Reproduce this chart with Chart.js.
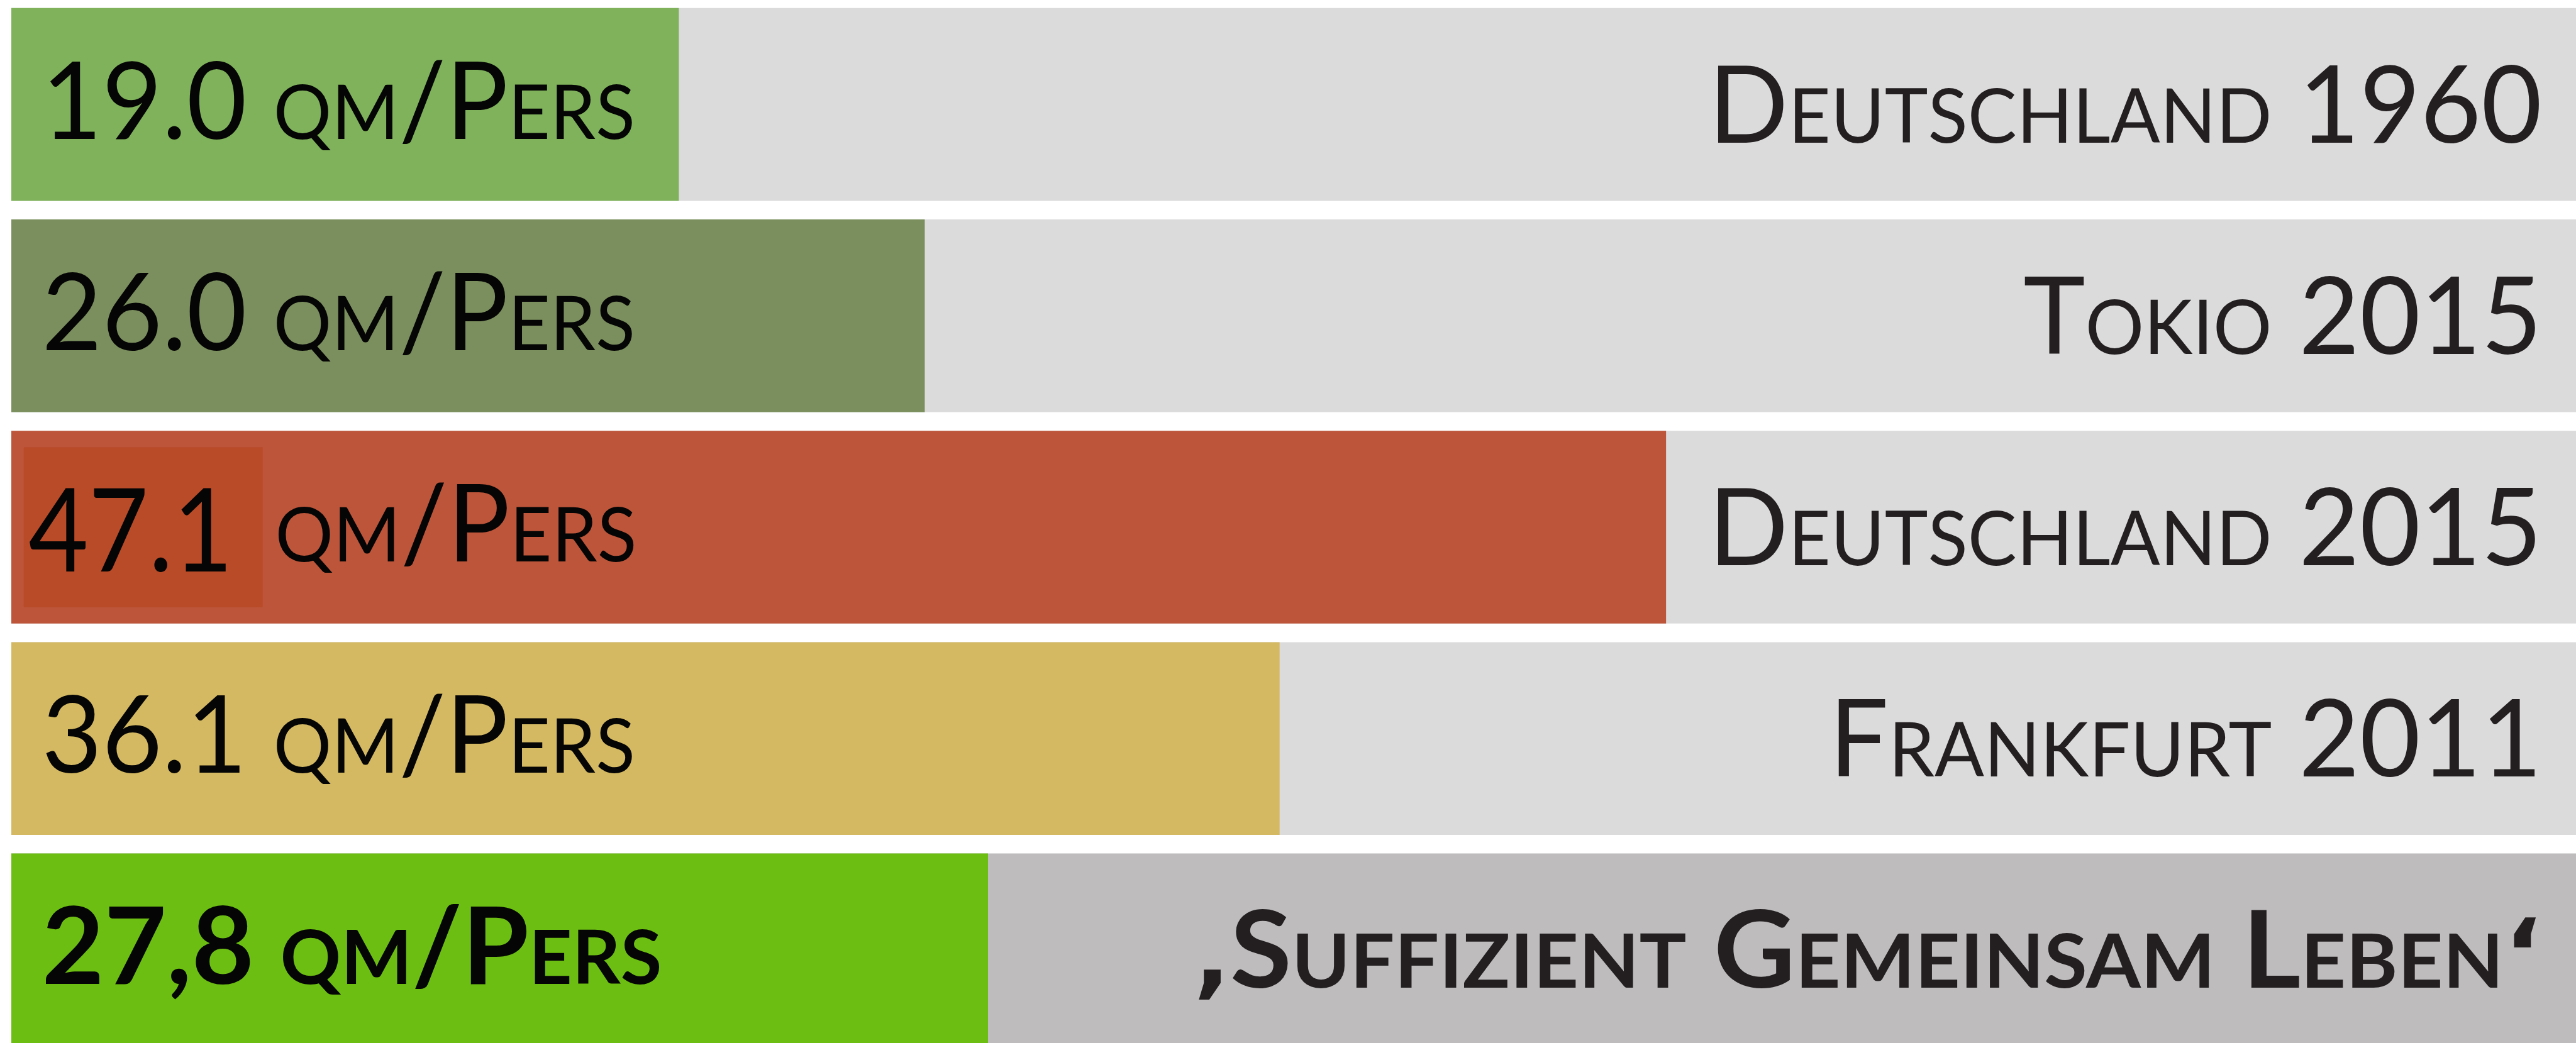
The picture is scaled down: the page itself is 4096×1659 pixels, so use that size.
<!DOCTYPE html>
<html>
<head>
<meta charset="utf-8">
<script src="https://cdn.jsdelivr.net/npm/chart.js@4/dist/chart.umd.min.js"></script>
<style>
  html, body { margin: 0; padding: 0; background: #ffffff; overflow: hidden; width: 4096px; height: 1659px; }
  #wrap { position: absolute; left: 0; top: -2px; width: 4096px; height: 1681px; }
  canvas { display: block; }
</style>
</head>
<body>
<div id="wrap"><canvas id="chart" width="4096" height="1681"></canvas></div>
<script>
// Living space per person (square metres per person)
const categories = ['Deutschland 1960', 'Tokio 2015', 'Deutschland 2015', 'Frankfurt 2011', '‚Suffizient Gemeinsam Leben‘'];
const areaPerPerson = [19.0, 26.0, 47.1, 36.1, 27.8];
const trackLength = [73, 73, 73, 73, 73];
const decimalMarks = ['.', '.', '.', '.', ','];
const unitLabel = 'qm/Pers';

// Styling
const S = 0.757;
const FONT = 'Lato, "Open Sans", "Noto Sans", sans-serif';
const QUOTE_FONT = '"DejaVu Sans", sans-serif';
const SMALL_CAPS = 0.70;
const BASE_SIZE = 171;
const BOX_DIGIT_SIZE = 185;
const barColors = ['#7fb25b', '#7b8f5e', '#bc553a', '#d4b962', '#6cbf12'];
const trackColors = ['#dbdbdb', '#dbdbdb', '#dbdbdb', '#dbdbdb', '#bebcbd'];
const rowStyle = ['plain', 'plain', 'boxed', 'plain', 'bold'];
const BOX_COLOR = '#b94b28';
const VALUE_COLOR = '#050505';
const CATEGORY_COLOR = '#231f20';
// horizontal condensing of the lettering
const VALUE_STRETCH = { 400: 0.965, 700: 1.0 };
const CATEGORY_STRETCH = { 400: 0.975, 700: 1.045 };
const BOX_DIGIT_STRETCH = 0.89;

// split text into runs; lowercase letters become small capitals,
// typographic quotes get their own face
function runs(text) {
  const out = [];
  for (const ch of text) {
    const kind = (ch === '‚' || ch === '‘') ? 'quote' : (ch !== ch.toUpperCase() ? 'small' : 'cap');
    const c = kind === 'small' ? ch.toUpperCase() : ch;
    if (out.length && out[out.length - 1][1] === kind) out[out.length - 1][0] += c;
    else out.push([c, kind]);
  }
  return out;
}
function fontFor(size, weight, kind) {
  if (kind === 'quote') return `${weight} ${size * 0.9}px ${QUOTE_FONT}`;
  return `${weight} ${kind === 'small' ? size * SMALL_CAPS : size}px ${FONT}`;
}
function measureSC(ctx, text, size, weight) {
  let w = 0;
  for (const [s, kind] of runs(text)) {
    ctx.font = fontFor(size, weight, kind);
    w += ctx.measureText(s).width;
  }
  return w;
}
function drawSC(ctx, text, x, y, size, weight, color, align, k) {
  const w = measureSC(ctx, text, size, weight) * k;
  const x0 = align === 'right' ? x - w : x;
  ctx.save();
  ctx.translate(x0, y);
  ctx.scale(k, 1);
  ctx.fillStyle = color;
  ctx.textAlign = 'left';
  ctx.textBaseline = 'alphabetic';
  let cx = 0;
  for (const [s, kind] of runs(text)) {
    ctx.font = fontFor(size, weight, kind);
    ctx.fillText(s, cx, 0);
    cx += ctx.measureText(s).width;
  }
  ctx.restore();
  return w;
}

const labelPlugin = {
  id: 'barLabels',
  afterDatasetsDraw(chart) {
    const ctx = chart.ctx;
    const area = chart.chartArea;
    const meta = chart.getDatasetMeta(0);
    meta.data.forEach((bar, i) => {
      const cy = bar.y;
      const style = rowStyle[i];
      const weight = style === 'bold' ? 700 : 400;
      const num = areaPerPerson[i].toFixed(1).replace('.', decimalMarks[i]);
      const left = area.left + 64 * S;

      if (style === 'boxed') {
        const bx = area.left + 26 * S, bw = 502 * S;
        ctx.fillStyle = BOX_COLOR;
        ctx.fillRect(bx, cy - 168 * S, bw, 336 * S);
        drawSC(ctx, num, area.left + 36 * S, cy + 93 * S, BOX_DIGIT_SIZE, weight, VALUE_COLOR, 'left', BOX_DIGIT_STRETCH);
        drawSC(ctx, unitLabel, bx + bw + 26 * S, cy + 72 * S, BASE_SIZE, weight, VALUE_COLOR, 'left', VALUE_STRETCH[weight]);
      } else {
        drawSC(ctx, num + ' ' + unitLabel, left, cy + 72 * S, BASE_SIZE, weight, VALUE_COLOR, 'left', VALUE_STRETCH[weight]);
      }
      drawSC(ctx, categories[i], area.right - 54, cy + 80 * S, BASE_SIZE, weight, CATEGORY_COLOR, 'right', CATEGORY_STRETCH[weight]);
    });
  }
};

new Chart(document.getElementById('chart'), {
  type: 'bar',
  data: {
    labels: categories,
    datasets: [
      {
        label: 'Wohnfläche pro Person',
        data: areaPerPerson,
        backgroundColor: barColors,
        grouped: false,
        order: 0,
        barPercentage: 0.912,
        categoryPercentage: 1.0,
        borderWidth: 0
      },
      {
        label: 'Skala',
        data: trackLength,
        backgroundColor: trackColors,
        grouped: false,
        order: 1,
        barPercentage: 0.912,
        categoryPercentage: 1.0,
        borderWidth: 0
      }
    ]
  },
  options: {
    indexAxis: 'y',
    responsive: false,
    animation: false,
    devicePixelRatio: 1,
    layout: { padding: { left: 18, right: 0, top: 0, bottom: 0 } },
    plugins: { legend: { display: false }, tooltip: { enabled: false } },
    scales: {
      x: { min: 0, max: 73, display: false, grid: { display: false } },
      y: { display: false, grid: { display: false } }
    }
  },
  plugins: [labelPlugin]
});
</script>
</body>
</html>
